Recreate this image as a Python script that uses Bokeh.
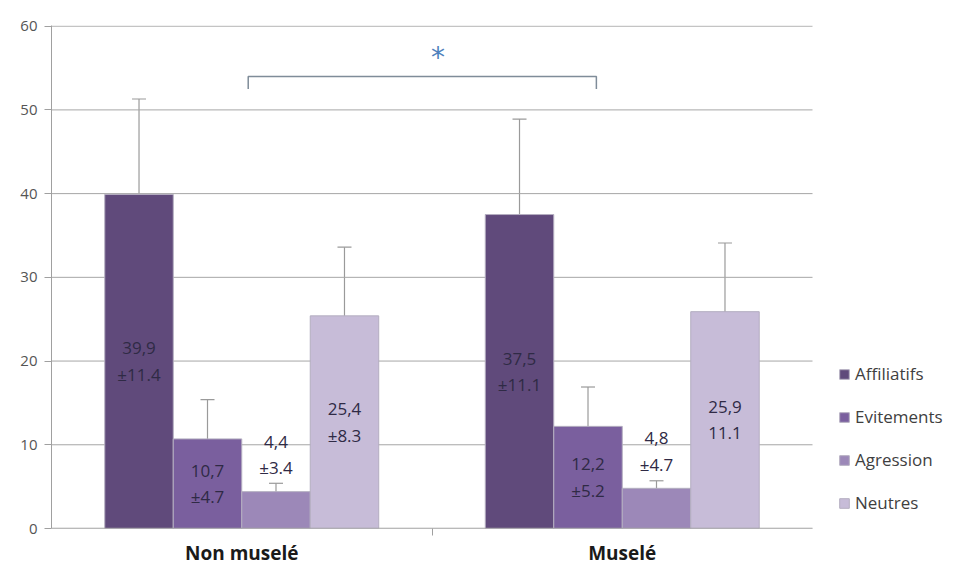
from bokeh.plotting import figure
from bokeh.models import (Range1d, FixedTicker, Whisker, ColumnDataSource, Legend,
                          LegendItem, TeeHead, Label)
from bokeh.core.properties import value
from bokeh.embed import file_html
from bokeh.resources import INLINE

# ---- data ----
categories = ["Non muselé", "Muselé"]
series = ["Affiliatifs", "Evitements", "Agression", "Neutres"]
affiliatifs = [39.9, 37.5]
evitements = [10.7, 12.2]
agression = [4.4, 4.8]
neutres = [25.4, 25.9]
# error bar half-lengths as drawn
err_affiliatifs = [11.4, 11.4]
err_evitements = [4.7, 4.7]
err_agression = [1.0, 0.9]
err_neutres = [8.2, 8.2]
# label texts
lbl_affiliatifs = ["39,9", "37,5"]
lbl_evitements = ["10,7", "12,2"]
lbl_agression = ["4,4", "4,8"]
lbl_neutres = ["25,4", "25,9"]
sd_affiliatifs = ["±11.4", "±11.1"]
sd_evitements = ["±4.7", "±5.2"]
sd_agression = ["±3.4", "±4.7"]
sd_neutres = ["±8.3", "11.1"]
y_ticks = [0, 10, 20, 30, 40, 50, 60]

values = [affiliatifs, evitements, agression, neutres]
errors = [err_affiliatifs, err_evitements, err_agression, err_neutres]
labels = [lbl_affiliatifs, lbl_evitements, lbl_agression, lbl_neutres]
sds = [sd_affiliatifs, sd_evitements, sd_agression, sd_neutres]
colors = ["#604a7b", "#7a5f9e", "#9c88b8", "#c7bcd8"]
offsets = [-0.27, -0.09, 0.09, 0.27]
bar_w = 0.18

W, H = 950, 568
LEFT, PLOT_RIGHT, PLOT_BOTTOM = 51, 812, 528
n_cat = len(categories)
x_end = n_cat * (W - LEFT) / (PLOT_RIGHT - LEFT)   # extra room on the right for the legend

p = figure(width=W, height=H, output_backend="svg", toolbar_location=None,
           x_range=Range1d(0, x_end), y_range=Range1d(0, 60.08))
p.min_border_left = LEFT
p.min_border_right = 0
p.min_border_top = 25
p.min_border_bottom = H - PLOT_BOTTOM
p.outline_line_color = None
p.background_fill_color = "white"
p.border_fill_color = "white"

# horizontal gridlines limited to the plot area
p.segment(x0=[0] * len(y_ticks), x1=[n_cat] * len(y_ticks), y0=y_ticks, y1=y_ticks,
          line_color="#a6a6a6", line_width=1)

renderers = []
for j, name in enumerate(series):
    xs = [i + 0.5 + offsets[j] for i in range(n_cat)]
    top = values[j]
    err = errors[j]
    src = ColumnDataSource(dict(
        x=xs, top=top,
        upper=[t + e for t, e in zip(top, err)],
        lower=[t - e for t, e in zip(top, err)],
        lbl=labels[j], sd=sds[j],
        ly=[(t / 2 if j != 2 else t + 4.4) for t in top],
    ))
    r = p.vbar(x="x", top="top", width=bar_w, bottom=0, source=src,
               fill_color=colors[j], line_color="#b4aec0", line_width=1)
    renderers.append(r)
    w = Whisker(base="x", upper="upper", lower="lower", source=src,
                line_color="#9a9a9a", line_width=1.2,
                upper_head=TeeHead(size=14, line_color="#9a9a9a", line_width=1.2),
                lower_head=TeeHead(size=14, line_color="#9a9a9a", line_width=1.2))
    p.add_layout(w)
    p.text(x="x", y="ly", text="lbl", source=src, text_align="center",
           text_baseline="middle", y_offset=-13, text_font_size="17px",
           text_color="#2f2a45", text_font=value("Open Sans"))
    p.text(x="x", y="ly", text="sd", source=src, text_align="center",
           text_baseline="middle", y_offset=13, text_font_size="17px",
           text_color="#2f2a45", text_font=value("Open Sans"))

# x axis baseline limited to the plot area
p.segment(x0=[0], x1=[n_cat], y0=[0], y1=[0], line_color="#a0a0a0", line_width=1.5)

# significance bracket
bx = [0.517, 0.517, 1.432, 1.432]
by = [52.5, 54.0, 54.0, 52.5]
p.line(bx, by, line_color="#7f8c99", line_width=1.5)
p.add_layout(Label(x=1.016, y=56.2, text="*", text_align="center",
                   text_baseline="middle", text_font_size="28px",
                   text_color="#4f81bd", text_font="DejaVu Sans"))

# axes
p.xaxis.ticker = FixedTicker(ticks=[0.5, 1.5], minor_ticks=[1])
p.xaxis.major_label_overrides = {0.5: categories[0], 1.5: categories[1]}
p.xaxis.major_tick_out = 0
p.xaxis.major_tick_in = 0
p.xaxis.minor_tick_out = 7
p.xaxis.minor_tick_in = 0
p.xaxis.minor_tick_line_color = "#a0a0a0"
p.xaxis.axis_line_color = None
p.xaxis.major_label_text_font = "Open Sans"
p.xaxis.major_label_text_font_style = "bold"
p.xaxis.major_label_text_font_size = "19px"
p.xaxis.major_label_text_color = "#1a1a1a"
p.xaxis.major_label_standoff = 4

p.yaxis.ticker = FixedTicker(ticks=y_ticks)
p.yaxis.major_tick_out = 7
p.yaxis.major_tick_in = 0
p.yaxis.minor_tick_line_color = None
p.yaxis.axis_line_color = "#a0a0a0"
p.yaxis.major_tick_line_color = "#a0a0a0"
p.yaxis.major_label_text_font = "Open Sans"
p.yaxis.major_label_text_font_size = "15px"
p.yaxis.major_label_text_color = "#555555"
p.yaxis.major_label_standoff = 7

p.xgrid.grid_line_color = None
p.ygrid.grid_line_color = None

legend = Legend(items=[LegendItem(label=s, renderers=[r]) for s, r in zip(series, renderers)],
                location=(787, 14), orientation="vertical",
                glyph_width=12, glyph_height=12, label_height=22, spacing=20,
                padding=0, margin=0, border_line_color=None,
                background_fill_alpha=0, label_text_font="Open Sans",
                label_text_font_size="17px", label_text_color="#3f3f3f",
                label_standoff=5)
p.add_layout(legend)

open("out.html", "w").write(file_html(p, INLINE))
